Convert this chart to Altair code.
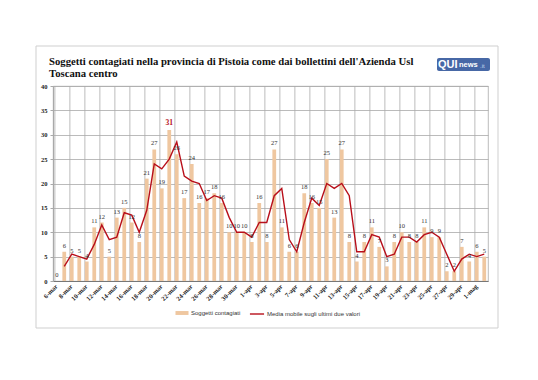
import altair as alt
import pandas as pd

days = [f"{d}-mar" for d in range(6, 32)] + [f"{d}-apr" for d in range(1, 31)] + ["1-mag", "2-mag"]

cases = [0, 6, 5, 5, 4, 11, 12, 5, 13, 15, 12, 8, 21, 27, 19, 31, 26, 17, 24, 16, 17, 18, 16, 10, 10, 10,
         8, 16, 8, 27, 11, 6, 6, 18, 16, 15, 25, 13, 27, 8, 4, 8, 11, 7, 3, 8, 10, 8, 8, 11, 9, 9, 2, 2, 7, 4,
         6, 5]

moving_avg = [None, 3, 5.5, 5, 4.5, 7.5, 11.5, 8.5, 9, 14, 13.5, 10, 14.5, 24, 23, 25, 28.5, 21.5, 20.5, 20,
              16.5, 17.5, 17, 13, 10, 10, 9, 12, 12, 17.5, 19, 8.5, 6, 12, 17, 15.5, 20, 19, 20, 17.5, 6, 6,
              9.5, 9, 5, 5.5, 9, 9, 8, 9.5, 10, 9, 5.5, 2, 4.5, 5.5, 5, 5.5]

tick_days = days[::2]
y_ticks = list(range(0, 41, 5))

title_lines = ["Soggetti contagiati nella provincia di Pistoia come dai bollettini dell'Azienda Usl",
               "Toscana centro"]
bar_name = "Soggetti contagiati"
line_name = "Media mobile sugli ultimi due valori"

BAR = "#EFC7A0"
RED = "#B80F1A"
GRID = "#A9A9A9"
SERIF = "Liberation Serif"
SANS = "Liberation Sans"

df = pd.DataFrame({"giorno": days, "casi": cases, "media": moving_avg})
df["serie_bar"] = bar_name
df["serie_line"] = line_name
peak = max(cases)

yscale = alt.Scale(domain=[0, 40])
xscale = alt.Scale(paddingInner=0.5, paddingOuter=0.25)

xaxis = alt.Axis(values=tick_days, labelAngle=-45, labelAlign="right", labelBaseline="middle",
                 grid=False, ticks=False, labelFont=SERIF, labelFontSize=6.5,
                 labelFontWeight="bold", labelColor="#222", domainColor="#777",
                 labelPadding=4, labelOverlap=False)
yaxis = alt.Axis(values=y_ticks, gridColor=GRID, gridWidth=0.8, labelFont=SERIF,
                 labelFontSize=6.5, labelFontWeight="bold", labelColor="#222",
                 domainColor=GRID, tickColor=GRID, tickSize=3, labelPadding=3,
                 labelOverlap=False)


def xenc(**kw):
    return alt.X("giorno:N", sort=days, title=None, scale=xscale, axis=xaxis, **kw)


def yenc(field):
    return alt.Y(f"{field}:Q", title=None, scale=yscale, axis=yaxis)


base = alt.Chart(df)

vgrid = base.transform_filter(
    alt.FieldOneOfPredicate(field="giorno", oneOf=tick_days)
).mark_rule(color=GRID, strokeWidth=0.8).encode(
    x=xenc(bandPosition=0)
)

bars = base.mark_bar().encode(
    x=xenc(), y=yenc("casi"),
    fill=alt.Fill("serie_bar:N", scale=alt.Scale(domain=[bar_name], range=[BAR]),
                  legend=alt.Legend(title=None, orient="none", legendX=122, legendY=220,
                                    symbolType="M-1,-0.3H1V0.3H-1Z", symbolSize=170,
                                    symbolStrokeWidth=0, labelFont=SANS, labelFontSize=6,
                                    labelColor="#333", labelOffset=2)),
)

line = base.transform_filter("datum.media != null").mark_line(strokeWidth=1.4).encode(
    x=xenc(),
    y=yenc("media"),
    stroke=alt.Stroke("serie_line:N", scale=alt.Scale(domain=[line_name], range=[RED]),
                      legend=alt.Legend(title=None, orient="none", legendX=196, legendY=220,
                                        symbolType="stroke", symbolSize=200, symbolStrokeWidth=1.4,
                                        labelFont=SANS, labelFontSize=6, labelColor="#333",
                                        labelOffset=2)),
)

labels = base.transform_filter(alt.datum.casi != peak).mark_text(
    dy=-3, baseline="bottom", font=SERIF, fontSize=6.5, color="#333"
).encode(
    x=xenc(),
    y=yenc("casi"),
    text=alt.Text("casi:Q"),
)
peak_label = base.transform_filter(alt.datum.casi == peak).mark_text(
    dy=-3, baseline="bottom", font=SERIF, fontSize=7.5, fontWeight="bold", color=RED
).encode(
    x=xenc(),
    y=yenc("casi"),
    text=alt.Text("casi:Q"),
)

deco = alt.Chart(pd.DataFrame({"k": [0]}))
frame = deco.mark_rect(fillOpacity=0, stroke="#CFCFCF", strokeWidth=1).encode(
    x=alt.value(-17), x2=alt.value(445), y=alt.value(-40), y2=alt.value(242)
)
title = deco.mark_text(text=title_lines, font=SERIF, fontSize=10.7, fontWeight="bold", color="#111",
                       align="left", baseline="alphabetic", lineHeight=12).encode(
    x=alt.value(-4), y=alt.value(-21)
)
logo_box = deco.mark_rect(fill="#4768A6", cornerRadius=2).encode(
    x=alt.value(384), x2=alt.value(437), y=alt.value(-28), y2=alt.value(-15)
)
logo_qui = deco.mark_text(text="QUI", font=SANS, fontSize=11, fontWeight="bold", color="white",
                          align="left", baseline="middle").encode(x=alt.value(385), y=alt.value(-21.5))
logo_news = deco.mark_text(text="news", font=SANS, fontSize=7.5, fontWeight="bold", color="white",
                           align="left", baseline="middle").encode(x=alt.value(406), y=alt.value(-21))
logo_it = deco.mark_text(text=".it", font=SANS, fontSize=6, color="#C9D6EE",
                         align="left", baseline="middle").encode(x=alt.value(427), y=alt.value(-20.5))

chart = alt.layer(vgrid, bars, line, labels, peak_label, frame, title,
                  logo_box, logo_qui, logo_news, logo_it).properties(
    width=435, height=195, background="white",
    padding={"left": 27, "top": 37, "right": 4, "bottom": 4},
).configure_view(stroke=GRID, strokeWidth=0.8)

chart.save("out.html", embed_options={"renderer": "svg", "actions": False})
